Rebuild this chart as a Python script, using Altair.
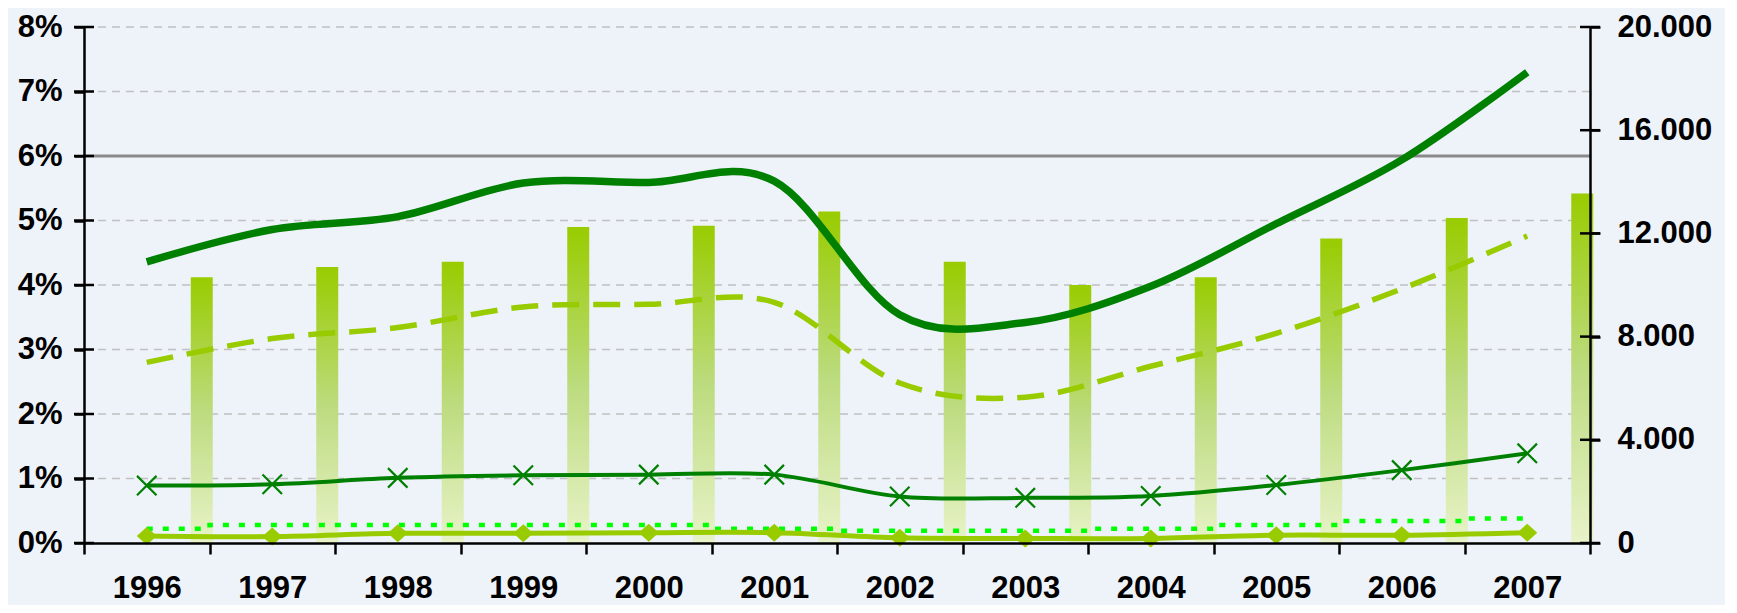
import altair as alt
import pandas as pd

# ---------------- data ----------------
years = ["1996", "1997", "1998", "1999", "2000", "2001",
         "2002", "2003", "2004", "2005", "2006", "2007"]

# left axis (%) series
line_main = [4.36, 4.86, 5.06, 5.58, 5.59, 5.61, 3.54, 3.42, 3.98, 4.95, 5.94, 7.30]
line_dashed = [2.80, 3.17, 3.34, 3.66, 3.70, 3.73, 2.48, 2.26, 2.74, 3.25, 3.94, 4.76]
line_cross = [0.89, 0.91, 1.01, 1.05, 1.06, 1.06, 0.72, 0.70, 0.73, 0.90, 1.13, 1.39]
line_diamond = [0.11, 0.10, 0.15, 0.15, 0.16, 0.16, 0.08, 0.07, 0.07, 0.12, 0.12, 0.16]
line_dotted = [0.22, 0.28, 0.28, 0.28, 0.28, 0.22, 0.19, 0.19, 0.22, 0.28, 0.34, 0.38]

# right axis series (bars)
bar_values = [10300, 10700, 10900, 12250, 12300, 12850,
              10900, 10000, 10300, 11800, 12600, 13550]

left_ticks = [0, 1, 2, 3, 4, 5, 6, 7, 8]
right_ticks = [0, 4000, 8000, 12000, 16000, 20000]
ref_level = [6]

LEFT_MAX = 8
RIGHT_MAX = 20000
RATIO = RIGHT_MAX / LEFT_MAX

W, H = 1506, 516
FONT = "Liberation Sans"

df = pd.DataFrame({
    "year": years,
    "main": line_main,
    "dashed": line_dashed,
    "cross": line_cross,
    "diamond": line_diamond,
    "dotted": line_dotted,
    "visitors": bar_values,
})
grid_df = pd.DataFrame({"g": left_ticks[1:]})
ref_df = pd.DataFrame({"v": ref_level})
lt_df = pd.DataFrame({"t": left_ticks})
rt_df = pd.DataFrame({"t": right_ticks})

yscale = alt.Scale(domain=[0, LEFT_MAX], nice=False, zero=True)
xscale = alt.Scale(paddingInner=0, paddingOuter=0)

x_axis = alt.Axis(
    title=None, tickBand="extent", tickSize=11, tickWidth=2.5, tickColor="black",
    domainColor="black", domainWidth=2.5, labelFontSize=31, labelFontWeight="bold",
    labelFont=FONT, labelColor="black", labelPadding=19, labelAngle=0, zindex=1,
    grid=False,
)
X = alt.X("year:N", scale=xscale, axis=x_axis, sort=years)

left_axis = alt.Axis(
    orient="left", values=left_ticks, labelExpr="datum.value + '%'", title=None,
    tickSize=10, tickWidth=2.5, tickColor="black", domainColor="black",
    domainWidth=2.5, labelPadding=12, labelFontSize=31, labelFont=FONT,
    labelFontWeight="bold", labelColor="black", grid=False, zindex=1,
)
right_axis = alt.Axis(
    orient="right", values=[t / RATIO for t in right_ticks],
    labelExpr=f"replace(format(datum.value * {RATIO}, ',.0f'), ',', '.')",
    title=None, tickSize=10, tickWidth=2.5, tickColor="black", domainColor="black",
    domainWidth=2.5, labelPadding=17, labelFontSize=31, labelFont=FONT,
    labelFontWeight="bold", labelColor="black", grid=False, zindex=1,
)

base = alt.Chart(df)

grid = alt.Chart(grid_df).mark_rule(
    color="#C0C0C0", strokeDash=[8, 6], strokeWidth=1.5
).encode(y=alt.Y("g:Q", scale=yscale, axis=None))

ref = alt.Chart(ref_df).mark_rule(color="#8A8A8A", strokeWidth=3).encode(
    y=alt.Y("v:Q", scale=yscale, axis=None)
)

gradient = alt.Gradient(
    gradient="linear",
    stops=[
        alt.GradientStop(color="#99CC00", offset=0),
        alt.GradientStop(color="#BCDB7E", offset=0.5),
        alt.GradientStop(color="#E8F3C8", offset=1),
    ],
    x1=1, x2=1, y1=0, y2=1,
)
bars = base.transform_calculate(
    bar_pct=f"datum.visitors / {RATIO}"
).mark_bar(size=22, xOffset=55, color=gradient).encode(
    x=X, y=alt.Y("bar_pct:Q", scale=yscale, axis=right_axis)
)

dotted = base.mark_line(
    color="#00FF00", strokeWidth=4.5, strokeDash=[6, 10], interpolate="step"
).encode(x=X, y=alt.Y("dotted:Q", scale=yscale, axis=None))

diamond_line = base.mark_line(
    color="#99CC00", strokeWidth=5, interpolate="cardinal"
).encode(x=X, y=alt.Y("diamond:Q", scale=yscale, axis=None))
diamond_pts = base.mark_point(
    shape="M-1,0L0,-0.9L1,0L0,0.9Z", filled=True, size=400, color="#99CC00", opacity=1
).encode(x=X, y=alt.Y("diamond:Q", scale=yscale, axis=None))

cross_line = base.mark_line(
    color="#008000", strokeWidth=4, interpolate="cardinal"
).encode(x=X, y=alt.Y("cross:Q", scale=yscale, axis=None))
cross_pts = base.mark_point(
    shape="M-1,-1L1,1M-1,1L1,-1", filled=False, size=380, strokeWidth=2.2,
    color="#008000", opacity=1
).encode(x=X, y=alt.Y("cross:Q", scale=yscale, axis=None))

dashed = base.mark_line(
    color="#99CC00", strokeWidth=5.5, strokeDash=[27, 14], interpolate="cardinal"
).encode(x=X, y=alt.Y("dashed:Q", scale=yscale, axis=None))

main = base.mark_line(
    color="#008000", strokeWidth=7.5, interpolate="cardinal"
).encode(x=X, y=alt.Y("main:Q", scale=yscale, axis=left_axis))

lticks = alt.Chart(lt_df).mark_tick(
    orient="horizontal", size=20, thickness=2.5, color="black", opacity=1
).encode(x=alt.value(0), y=alt.Y("t:Q", scale=yscale, axis=None))

rticks = alt.Chart(rt_df).transform_calculate(
    tp=f"datum.t / {RATIO}"
).mark_tick(
    orient="horizontal", size=20, thickness=2.5, color="black", opacity=1
).encode(x=alt.value(W), y=alt.Y("tp:Q", scale=yscale, axis=None))

chart = alt.layer(
    grid, ref, bars, dotted, diamond_line, diamond_pts, cross_line, cross_pts,
    dashed, main, lticks, rticks
).resolve_axis(y="independent").properties(
    width=W, height=H,
    autosize=alt.AutoSizeParams(type="none"),
    padding={"left": 76, "top": 19, "right": 135, "bottom": 62},
    background="#EEF3FA",
).configure_view(stroke="transparent")

chart.save("out.html", embed_options={"renderer": "svg", "actions": False})
